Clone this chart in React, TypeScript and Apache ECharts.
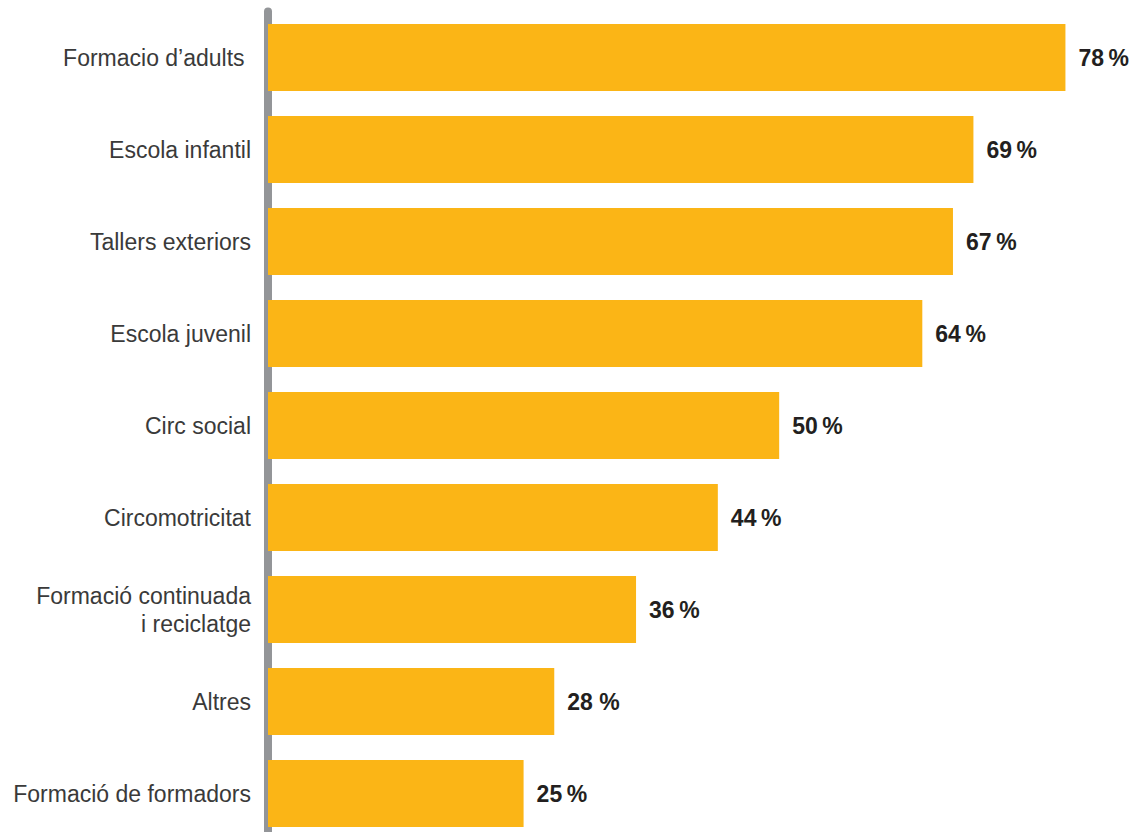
import React, { useEffect, useRef } from "react";
import * as echarts from "echarts";

const categories = [
  "Formacio d\u2019adults ",
  "Escola infantil",
  "Tallers exteriors",
  "Escola juvenil",
  "Circ social",
  "Circomotricitat",
  "Formació continuada\ni reciclatge",
  "Altres",
  "Formació de formadors",
];
const values = [78, 69, 67, 64, 50, 44, 36, 28, 25];
const valueLabels = ["78\u2009%", "69\u2009%", "67\u2009%", "64\u2009%", "50\u2009%", "44\u2009%", "36\u2009%", "28 %", "25\u2009%"];

export default function App() {
  const ref = useRef<HTMLDivElement>(null);
  useEffect(() => {
    if (!ref.current) return;
    const chart = echarts.init(ref.current, undefined, { renderer: "svg" });
    chart.setOption({
      animation: false,
      grid: { left: 268, right: 0, top: 11.5, height: 828, containLabel: false },
      xAxis: {
        type: "value",
        min: 0,
        max: 85,
        show: false,
      },
      yAxis: {
        type: "category",
        data: categories,
        inverse: true,
        offset: 4,
        axisLine: { show: true, lineStyle: { color: "#939598", width: 8 } },
        axisTick: { show: false },
        axisLabel: {
          margin: 13,
          fontSize: 23,
          fontFamily: "Liberation Sans, Arial, sans-serif",
          color: "#3a3a3a",
          lineHeight: 28,
        },
      },
      series: [
        {
          type: "bar",
          data: values,
          barWidth: 67,
          itemStyle: { color: "#FBB516" },
          label: {
            show: true,
            position: "right",
            distance: 13,
            fontSize: 23,
            fontWeight: "bold",
            fontFamily: "Liberation Sans, Arial, sans-serif",
            color: "#231f20",
            formatter: (p: any) => valueLabels[p.dataIndex],
          },
        },
      ],
    });
    return () => chart.dispose();
  }, []);
  return (
    <div style={{ position: "absolute", left: 0, top: 0, width: 1137, height: 832, overflow: "hidden" }}>
      <div ref={ref} style={{ width: 1137, height: 840 }} />
    </div>
  );
}
